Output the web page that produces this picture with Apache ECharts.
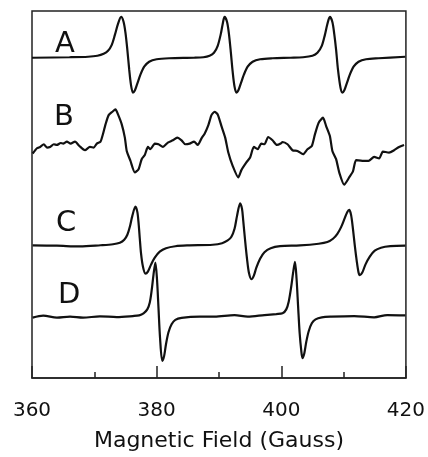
<!DOCTYPE html>
<html>
<head>
    <meta charset="utf-8">
    <title>EPR spectra</title>
    <script src="https://cdn.jsdelivr.net/npm/echarts@6/dist/echarts.min.js"></script>
    <style>
        body { margin: 0; background: #fff; }
        #main { width: 428px; height: 457px; }
    </style>
</head>
<body>
<div id="main"></div>
<script type="text/javascript">
    // field values (Gauss) and signal heights (arbitrary units, traces stacked)
    var fieldA = [360.0, 366.0, 369.0, 370.5, 371.5, 372.2, 372.8, 373.3, 373.8, 374.3, 374.7, 375.0, 375.3, 375.6, 375.9,
        376.2, 376.5, 376.9, 377.4, 378.0, 378.8, 380.0, 382.0, 386.0,
        387.5, 388.5, 389.2, 389.8, 390.3, 390.6, 390.9, 391.3, 391.6, 391.9, 392.2, 392.5, 392.8, 393.1, 393.5,
        394.0, 394.6, 395.4, 396.6, 398.6, 401.5,
        403.5, 405.0, 405.8, 406.5, 407.0, 407.4, 407.8, 408.2, 408.5, 408.8, 409.1, 409.5, 409.8, 410.1, 410.5,
        411.0, 411.6, 412.4, 413.6, 415.6, 419.9];
    var signalA = [322, 322.5, 323, 324, 326, 329, 335, 345, 356, 363, 358, 347, 330, 310, 294,
        287, 289, 296, 305, 313, 318, 320.5, 321.5, 322,
        322.5, 324, 327, 334, 346, 356, 363, 358, 346, 328, 308, 293, 287, 289, 296,
        305, 313, 318, 320.5, 321.5, 322,
        322.5, 324, 327, 334, 345, 356, 363, 358, 346, 330, 310, 292, 287, 289, 296,
        305, 313, 318, 320.5, 321.5, 323];

    var fieldB = [360.1, 360.8, 361.3, 361.9, 362.4, 362.9, 363.5, 364.0, 364.6, 365.0, 365.6, 366.2, 366.9, 367.6, 368.5,
        369.3, 369.9, 370.4, 371.0, 371.3, 371.8, 372.3, 372.9, 373.4, 373.8, 374.4, 374.9, 375.2, 375.8, 376.5,
        377.1, 377.6, 378.1, 378.6, 379.0, 379.7, 380.3, 381.0, 381.8, 382.6, 383.3, 384.0, 384.6, 385.3, 386.0,
        386.6, 387.2, 387.7, 388.3, 388.8, 389.3, 389.8, 390.4, 391.0, 391.5, 392.2, 393.1, 393.6, 394.4, 395.0,
        395.6, 396.2, 396.8, 397.3, 397.9, 398.6, 399.3, 399.9, 400.2, 401.0, 401.8, 402.6, 403.5, 404.2, 404.9,
        405.4, 406.0, 406.7, 407.2, 407.8, 408.2, 408.8, 409.3, 410.1, 410.9, 411.5, 412.0, 413.0, 414.0, 414.9,
        415.7, 416.3, 417.3, 418.1, 418.9, 419.7];
    var signalB = [225.7, 231, 232.3, 235, 231.7, 232.3, 235, 234.3, 236.3, 235.7, 237.7, 235.7, 237.7, 233.3, 229,
        232.3, 231.7, 235.7, 237.7, 243.3, 255, 264.3, 267.7, 270, 265, 255, 241.7, 228.3, 218.3, 206.7,
        210, 220, 224.3, 232.3, 230, 235.7, 235, 232.3, 236.7, 239, 241.7, 239, 235, 235.7, 237.7,
        234.3, 241, 245.7, 254.3, 264.3, 267.7, 265, 253.3, 241.7, 226.7, 213.3, 201.7, 209, 216.7, 221.7,
        232.3, 230, 235.7, 235, 242.3, 239, 234.3, 235.7, 237.3, 235, 229, 228.3, 225, 230, 233.3,
        245, 256.7, 261.7, 253.3, 243.3, 228.3, 220, 206.7, 194.3, 201.7, 207.7, 219, 218.3, 218.3, 222.3,
        220.7, 227.7, 226.7, 229, 232.3, 234.3];

    var fieldC = [360.1, 364.0, 367.7, 371.0, 373.0, 374.1, 374.8, 375.3, 375.7, 376.1, 376.6, 376.9, 377.1, 377.3, 377.5,
        377.8, 378.2, 378.6, 379.1, 379.7, 380.5, 381.5, 383.0, 385.0, 389.0,
        390.5, 391.4, 392.0, 392.5, 392.9, 393.4, 393.7, 393.9, 394.2, 394.5, 394.8, 395.2, 395.6, 396.0, 396.6,
        397.3, 398.3, 399.8, 403.0, 406.0,
        407.4, 408.3, 409.0, 409.6, 410.2, 410.6, 410.9, 411.2, 411.5, 411.8, 412.1, 412.4, 412.6, 413.0, 413.5,
        414.2, 415.0, 416.0, 417.5, 419.9];
    var signalC = [133.3, 133, 132.3, 133.5, 134.5, 136, 139, 144, 152, 163, 172.3, 167, 156, 140, 125,
        112, 105, 107, 114, 121, 127, 130.5, 132.5, 133.3, 134,
        135.5, 138.3, 142, 150, 163, 175.7, 170, 158, 138, 120, 106, 99.3, 103, 111, 120,
        126.5, 130.5, 132.5, 133.3, 135,
        136.7, 140, 145, 151.7, 161, 167, 169, 164, 150, 133, 118, 106, 103.3, 106, 114,
        122, 128, 131, 132.5, 133];

    var fieldD = [360.1, 361.8, 364.0, 366.1, 368.2, 370.9, 373.6, 376.2, 377.2, 377.9, 378.5, 378.9, 379.2, 379.5, 379.8,
        380.05, 380.3, 380.55, 380.9, 381.2, 381.5, 381.9, 382.4, 383.0, 384.0, 386.9, 389.3, 392.5, 394.6, 397.3,
        399.2, 400.2, 400.8, 401.2, 401.6, 401.9, 402.2, 402.45, 402.7, 402.95, 403.2, 403.4, 403.7, 404.0, 404.4,
        404.9, 405.5, 406.5, 408.0, 411.7, 414.9, 417.0, 419.9];
    var signalD = [60.7, 62.7, 60.7, 61.7, 60.7, 62, 61.3, 62.3, 63, 65, 69, 76, 88, 104, 116,
        100, 70, 40, 17.3, 22, 34, 46, 54, 58.5, 60.5, 61.7, 61.7, 63.3, 61.7, 63.3,
        64.3, 65, 69, 77, 92, 106, 116.7, 100, 72, 45, 28, 20, 25, 36, 47,
        55, 59, 61, 61.7, 62.3, 61, 63.3, 63];

    var traceNames = ['A', 'B', 'C', 'D'];
    var xTicks = [360, 380, 400, 420];

    function pairs(xs, ys) {
        var out = [];
        for (var i = 0; i < xs.length; i++) out.push([xs[i], ys[i]]);
        return out;
    }

    var traces = [
        pairs(fieldA, signalA),
        pairs(fieldB, signalB),
        pairs(fieldC, signalC),
        pairs(fieldD, signalD)
    ];
    // label spots (pixels), one per trace
    var labelPos = [[55, 30], [54, 103], [56, 209], [58, 281]];

    var myChart = echarts.init(document.getElementById('main'));

    var series = traces.map(function (d, i) {
        return {
            name: traceNames[i],
            type: 'line',
            data: d,
            showSymbol: false,
            smooth: i === 1 ? 0.2 : 0.3,
            lineStyle: { color: '#111', width: 2.2 },
            animation: false
        };
    });

    var option = {
        backgroundColor: '#fff',
        grid: {
            left: 32, right: 22, top: 11, bottom: 77,
            show: true, borderColor: '#222', borderWidth: 1.5
        },
        xAxis: {
            type: 'value',
            min: xTicks[0], max: xTicks[xTicks.length - 1], interval: 20,
            name: 'Magnetic Field (Gauss)',
            nameLocation: 'middle',
            nameGap: 52,
            nameTextStyle: { fontFamily: 'DejaVu Sans', fontSize: 22, color: '#111' },
            axisLine: { show: true, lineStyle: { color: '#222', width: 1.5 } },
            axisTick: { show: true, inside: true, length: 12, lineStyle: { color: '#222', width: 1.5 } },
            minorTick: { show: true, splitNumber: 2, length: 6, lineStyle: { color: '#222', width: 1.5 } },
            axisLabel: { margin: 23, fontFamily: 'DejaVu Sans', fontSize: 20, color: '#111', showMinLabel: true, showMaxLabel: true },
            splitLine: { show: false }
        },
        yAxis: {
            type: 'value', min: 0, max: 369,
            show: false
        },
        graphic: traceNames.map(function (t, i) {
            return {
                type: 'text',
                left: labelPos[i][0],
                top: labelPos[i][1],
                style: { text: t, font: '29px "DejaVu Sans"', fill: '#111' }
            };
        }),
        series: series
    };

    myChart.setOption(option);
</script>
</body>
</html>
